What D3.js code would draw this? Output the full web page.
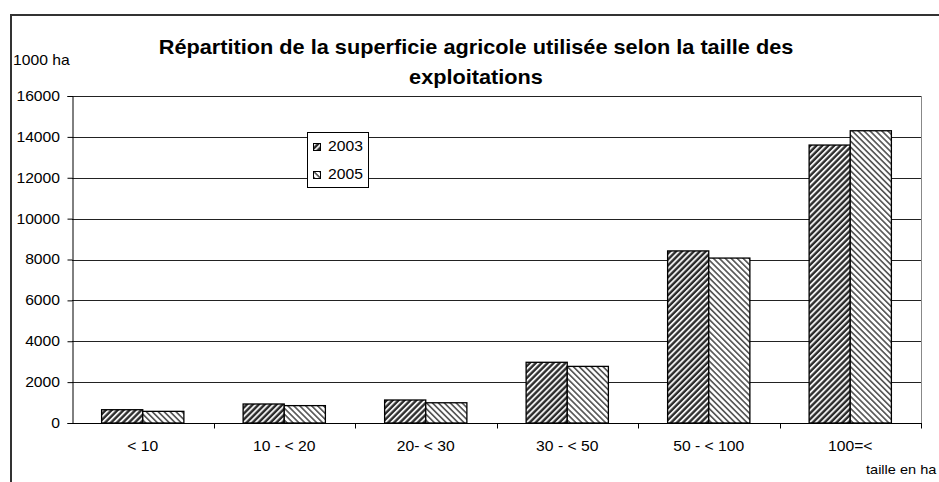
<!DOCTYPE html>
<html>
<head>
<meta charset="utf-8">
<script src="https://cdn.jsdelivr.net/npm/d3@7"></script>
<style>
  body { margin: 0; background: #fff; }
  text { font-family: "Liberation Sans", Arial, sans-serif; fill: #000; }
</style>
</head>
<body>
<div id="container"></div>
<script>
const width = 939;
const height = 482;

const categories = ["< 10", "10 - < 20", "20- < 30", "30 - < 50", "50 - < 100", "100=<"];
const series = ["2003", "2005"];
const values2003 = [650, 930, 1125, 2970, 8420, 13600];
const values2005 = [570, 850, 990, 2770, 8070, 14300];
const yTicks = [0, 2000, 4000, 6000, 8000, 10000, 12000, 14000, 16000];
const titleLines = ["Répartition de la superficie agricole utilisée selon la taille des", "exploitations"];

const margin = { left: 72, right: 921, top: 96, bottom: 423 };
const stretch = 1.12; // the original text is a bit wider than Arial

// place a text at (px, py) with horizontal stretch
function placeText(sel, px, py) {
    sel.attr("x", 0).attr("y", 0)
        .attr("transform", (d, i) => "translate(" + px(d, i) + "," + py(d, i) + ") scale(" + stretch + ",1)");
}

let svg = d3.select("#container").append("svg")
    .attr("width", width)
    .attr("height", height);

// hatch patterns
let defs = svg.append("defs");
let p1 = defs.append("pattern")
    .attr("id", "hatch2003")
    .attr("patternUnits", "userSpaceOnUse")
    .attr("width", 4.2).attr("height", 4.2)
    .attr("patternTransform", "rotate(45)");
p1.append("rect").attr("width", 4.2).attr("height", 4.2).attr("fill", "#2a2a2a");
p1.append("rect").attr("width", 1.9).attr("height", 4.2).attr("fill", "#f0f0f0");

let p2 = defs.append("pattern")
    .attr("id", "hatch2005")
    .attr("patternUnits", "userSpaceOnUse")
    .attr("width", 4.2).attr("height", 4.2)
    .attr("patternTransform", "rotate(-45)");
p2.append("rect").attr("width", 4.2).attr("height", 4.2).attr("fill", "#ffffff");
p2.append("rect").attr("width", 1.7).attr("height", 4.2).attr("fill", "#5a5a5a");

const fills = { "2003": "url(#hatch2003)", "2005": "url(#hatch2005)" };

// outer chart border
svg.append("path")
    .attr("d", `M11,${height + 2} V15 H${width + 2}`)
    .attr("fill", "none")
    .attr("stroke", "#333")
    .attr("stroke-width", 2);

let x = d3.scaleBand()
    .domain(categories)
    .range([margin.left, margin.right]);

let x1 = d3.scaleBand()
    .domain(series)
    .range([0, x.bandwidth()])
    .paddingOuter(0.72)
    .paddingInner(0);

let y = d3.scaleLinear()
    .domain([0, 16000])
    .range([margin.bottom, margin.top]);

// gridlines
svg.append("g")
    .selectAll("line")
    .data(yTicks.filter(d => d > 0))
    .join("line")
    .attr("x1", margin.left)
    .attr("x2", margin.right)
    .attr("y1", d => Math.round(y(d)) + 0.5)
    .attr("y2", d => Math.round(y(d)) + 0.5)
    .attr("stroke", "#222")
    .attr("stroke-width", 1);

// plot area right border
svg.append("line")
    .attr("x1", margin.right + 0.5).attr("x2", margin.right + 0.5)
    .attr("y1", margin.top).attr("y2", margin.bottom)
    .attr("stroke", "#888");

// bars
let table = categories.map((c, i) => ({ cat: c, "2003": values2003[i], "2005": values2005[i] }));

let group = svg.append("g")
    .selectAll("g")
    .data(table)
    .join("g")
    .attr("transform", d => "translate(" + x(d.cat) + ",0)");

group.selectAll("rect")
    .data(d => series.map(s => ({ s: s, v: d[s] })))
    .join("rect")
    .attr("x", d => x1(d.s))
    .attr("y", d => y(d.v))
    .attr("width", x1.bandwidth())
    .attr("height", d => y(0) - y(d.v))
    .attr("fill", d => fills[d.s])
    .attr("stroke", "#000")
    .attr("stroke-width", 1.3);

// y axis
let yAxis = svg.append("g")
    .attr("transform", `translate(${margin.left + 0.5},0)`)
    .call(d3.axisLeft(y).tickValues(yTicks).tickSize(5).tickFormat(d3.format("d")));
yAxis.selectAll("text")
    .attr("font-size", 14)
    .attr("font-family", "Liberation Sans, Arial, sans-serif")
    .attr("x", -12.5 / stretch)
    .attr("transform", "scale(" + stretch + ",1)");
yAxis.select(".domain").attr("stroke", "#000");
yAxis.selectAll(".tick line").attr("stroke", "#000");

// x axis
let xAxis = svg.append("g")
    .attr("transform", `translate(0,${Math.round(margin.bottom) + 0.5})`);
xAxis.append("line")
    .attr("x1", margin.left).attr("x2", margin.right + 1)
    .attr("stroke", "#000");
xAxis.selectAll(".sep")
    .data(categories.map(c => x(c)).concat([margin.right]).slice(1))
    .join("line")
    .attr("class", "sep")
    .attr("x1", d => Math.round(d) + 0.5)
    .attr("x2", d => Math.round(d) + 0.5)
    .attr("y1", 0).attr("y2", 5)
    .attr("stroke", "#000");
xAxis.selectAll(".lab")
    .data(categories)
    .join("text")
    .attr("class", "lab")
    .attr("text-anchor", "middle")
    .attr("font-size", 14)
    .text(d => d)
    .call(placeText, d => x(d) + x.bandwidth() / 2, () => 27.5);

// unit labels
svg.append("text")
    .attr("font-size", 14)
    .text("1000 ha")
    .call(placeText, () => 13, () => 65);

svg.append("text")
    .attr("font-size", 13)
    .text("taille en ha")
    .call(placeText, () => 866, () => 474);

// title
svg.append("g")
    .selectAll("text")
    .data(titleLines)
    .join("text")
    .attr("text-anchor", "middle")
    .attr("font-size", 19.4)
    .attr("font-weight", "bold")
    .text(d => d)
    .call(placeText, () => 476, (d, i) => 53.5 + i * 30);

// legend
let legend = svg.append("g").attr("transform", "translate(307.5,132.5)");
legend.append("rect")
    .attr("width", 61).attr("height", 55)
    .attr("fill", "#fff")
    .attr("stroke", "#000");
let item = legend.selectAll("g")
    .data(series)
    .join("g")
    .attr("transform", (d, i) => "translate(0," + (i * 28) + ")");
item.append("rect")
    .attr("x", 6).attr("y", 11)
    .attr("width", 7).attr("height", 7)
    .attr("fill", d => fills[d])
    .attr("stroke", "#000");
item.append("text")
    .attr("font-size", 14)
    .text(d => d)
    .call(placeText, () => 20.5, () => 18.5);
</script>
</body>
</html>
